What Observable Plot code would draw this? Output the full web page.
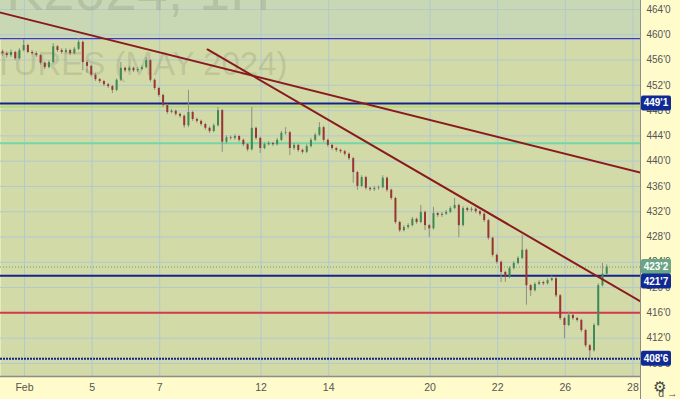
<!DOCTYPE html>
<html><head><meta charset="utf-8">
<script src="https://cdn.jsdelivr.net/npm/d3@7"></script>
<script src="https://cdn.jsdelivr.net/npm/@observablehq/plot@0.6"></script>
<style>
html,body{margin:0;padding:0;background:#fffbcb;overflow:hidden;}
#chart svg{display:block;}
</style></head><body><div id="chart"></div>
<script>
// ---- data (hourly bars, prices in cents) ----
const firstOpen = 457.3;
const firstBarDay = -0.65;
const barsPerDay = 8;
const closes = [457.0,456.7,457.2,456.2,457.5,458.3,457.2,457.0,456.7,455.5,
454.8,455.6,458.1,457.5,457.2,457.5,457.0,457.7,458.8,455.6,
455.0,453.6,452.9,452.6,452.1,451.8,451.2,452.8,454.7,454.3,
454.7,454.3,454.5,454.8,455.9,452.8,451.5,450.4,448.8,447.7,
447.9,447.4,447.1,445.6,447.7,446.6,446.3,445.8,445.2,444.7,
445.6,448.0,443.0,443.7,443.6,443.9,443.3,442.6,441.8,445.2,
443.6,442.0,442.6,442.8,442.6,443.3,444.4,444.5,442.0,442.5,
441.7,441.4,442.3,443.3,444.1,445.3,443.3,442.5,442.0,441.7,
441.5,441.1,440.4,438.2,436.0,437.4,435.7,435.5,435.7,435.8,
437.3,435.4,434.1,430.3,429.0,429.5,429.8,430.8,430.3,431.9,
429.8,429.3,431.7,431.4,431.6,431.9,432.5,433.0,429.8,432.5,
432.2,432.4,432.0,431.6,430.6,427.8,425.1,424.0,422.4,421.6,
423.0,423.8,424.6,425.9,420.3,419.5,420.5,420.8,420.6,421.1,
421.4,418.7,415.1,414.0,415.6,415.1,414.8,413.2,410.8,410.0,
414.0,420.3,422.1,423.25];
const highs = [457.6,457.3,457.6,457.4,457.8,459.25,458.5,457.5,457.3,456.9,
455.7,455.9,458.6,458.3,457.8,457.8,457.7,458.0,459.4,459.0,
455.9,455.2,453.9,453.1,452.8,452.3,452.0,453.0,455.6,454.9,
455.0,454.9,454.8,455.1,456.4,456.1,453.0,451.7,450.6,449.0,
448.2,448.1,447.6,447.3,451.2,447.9,446.8,446.5,446.0,445.4,
445.9,448.5,448.2,444.0,444.0,444.2,444.1,443.5,442.8,448.5,
445.4,443.8,442.9,443.1,443.0,443.6,444.7,445.3,444.7,442.8,
442.7,441.9,442.6,443.6,444.4,446.1,445.5,443.5,442.7,442.2,
441.9,441.7,441.3,440.6,438.4,437.7,437.6,435.9,436.0,436.1,
437.7,437.5,435.6,434.3,430.5,429.8,430.1,431.1,431.0,433.0,
432.1,430.0,432.7,431.9,431.9,432.2,432.8,434.1,433.2,432.8,
432.7,432.7,432.6,432.2,431.8,430.8,428.0,425.3,424.2,422.6,
423.3,424.1,424.9,428.3,426.1,420.5,420.8,421.1,421.0,421.4,
421.8,421.6,418.9,415.3,416.1,415.8,415.3,415.0,413.4,411.0,
414.3,420.6,423.8,423.6];
const lows = [456.6,456.3,456.4,455.9,456.0,457.3,457.0,456.7,456.4,455.2,
454.5,454.6,455.4,457.2,456.9,456.9,456.7,456.8,457.5,454.3,
453.9,453.3,452.6,452.3,451.8,451.5,450.7,451.0,452.6,454.0,
454.1,454.0,454.0,454.3,454.6,452.5,451.2,450.1,448.5,447.4,
447.5,447.1,446.8,445.2,445.3,446.3,446.0,445.5,444.9,444.4,
444.5,445.4,441.4,442.7,443.3,443.3,443.0,442.3,441.5,441.6,
443.3,441.2,441.8,442.4,442.3,442.4,443.1,444.1,440.9,441.7,
441.4,441.1,441.2,442.1,443.1,443.9,443.0,442.2,441.7,441.4,
441.2,440.8,440.1,436.5,435.4,435.8,435.4,435.2,435.2,435.4,
435.6,435.1,433.8,430.0,428.7,428.8,429.2,429.6,430.0,430.1,
429.0,427.9,429.1,431.1,431.1,431.4,431.7,432.3,427.9,429.6,
431.9,431.9,431.7,431.3,430.3,427.5,424.8,423.7,420.8,420.8,
421.4,422.8,423.6,424.4,417.2,418.6,419.3,420.3,420.3,420.4,
420.9,418.4,414.8,411.9,413.8,414.8,414.5,412.9,410.5,408.75,
409.8,413.8,420.1,421.9];

// axes
const tickDays = [0, 2, 4, 7, 9, 12, 14, 16, 18];
const tickLabels = ["Feb", "5", "7", "12", "14", "20", "22", "26", "28"];
const priceTicks = [408,412,416,420,424,428,432,436,440,444,448,452,456,460,464];
const xDomain = [-0.7101, 18.2249];
const yDomain = [405.93, 465.42];

// levels
const blueLevel = 459.375;
const navyLevels = [449.125, 421.875];
const limeLevel = 448.6;
const mintLevel = 442.85;
const redLevel = 416.0;
const supportLevel = 408.75;
const lastPrice = 423.25;

// trend lines
const trendA = [{d: -0.7101, p: 463.5}, {d: 18.2249, p: 438.2}];
const trendB = [{d: 5.414, p: 457.67}, {d: 18.2249, p: 417.8}];

// price tags
const tags = [
  {v: 449.125, label: "449'1", kind: "navy"},
  {v: 423.25, label: "423'2", kind: "last"},
  {v: 421.875, label: "421'7", kind: "navy"},
  {v: 408.75, label: "408'6", kind: "navy"}
];

// watermark
const wmTitle = "ZWK2024, 1H";
const wmSub = "WHEAT FUTURES (MAY 2024)";
const wmTitlePos = {d: 7.28, p: 463.85};
const wmSubPos = {d: 7.78, p: 453.6};

// ---- build bars ----
const bars = closes.map((c, i) => ({
  d: firstBarDay + i / barsPerDay,
  open: i === 0 ? firstOpen : closes[i - 1],
  close: c, high: highs[i], low: lows[i]
}));
const upBars = bars.filter(b => b.close >= b.open);
const downBars = bars.filter(b => b.close < b.open);

const fmt = v => { const f = Math.floor(v); return `${f}'${Math.round((v - f) * 8)}`; };

const plot = Plot.plot({
  width: 680, height: 399,
  marginLeft: 0, marginRight: 40, marginTop: 0, marginBottom: 23,
  x: {domain: xDomain, axis: null},
  y: {domain: yDomain, axis: null},
  style: {background: "#fffbcb", fontFamily: "'Liberation Sans', Arial, sans-serif", fontSize: "10px", color: "#555"},
  marks: [
    Plot.frame({fill: "#d2daa8", stroke: null}),
    Plot.rect([0], {x1: xDomain[0], x2: xDomain[1], y1: blueLevel, y2: yDomain[1], fill: "#c9d8b4"}),
    Plot.gridX(tickDays, {stroke: "#b3c8cf", strokeOpacity: 1}),
    Plot.gridY(priceTicks, {stroke: "#b3c8cf", strokeOpacity: 1}),
    Plot.text([wmTitle], {x: wmTitlePos.d, y: wmTitlePos.p, text: d => d, textAnchor: "end", lineAnchor: "bottom", fontSize: 56, fill: "#68735c", fillOpacity: 0.2, clip: true}),
    Plot.text([wmSub], {x: wmSubPos.d, y: wmSubPos.p, text: d => d, textAnchor: "end", lineAnchor: "bottom", fontSize: 33, fill: "#68735c", fillOpacity: 0.2, clip: true}),
    Plot.ruleY([blueLevel], {stroke: "#3b3bd4", strokeWidth: 1.3}),
    Plot.ruleY([limeLevel], {stroke: "#bad878", strokeWidth: 2}),
    Plot.ruleY([navyLevels[0]], {stroke: "#14238c", strokeWidth: 2}),
    Plot.ruleY([mintLevel], {stroke: "#74d6a6", strokeWidth: 2}),
    Plot.ruleY([redLevel], {stroke: "#d43a4c", strokeWidth: 2}),
    Plot.ruleY([lastPrice], {stroke: "#5f9f7c", strokeWidth: 1, strokeDasharray: "1,2"}),
    Plot.ruleY([navyLevels[1]], {stroke: "#14238c", strokeWidth: 2}),
    Plot.ruleY([supportLevel], {stroke: "#14238c", strokeWidth: 2, strokeDasharray: "2,1"}),
    Plot.ruleX(bars, {x: "d", y1: "low", y2: "high", stroke: "#8e8e86", strokeWidth: 1}),
    Plot.ruleX(upBars, {x: "d", y1: "open", y2: "close", stroke: "#3e8a52", strokeWidth: 2}),
    Plot.ruleX(downBars, {x: "d", y1: "open", y2: "close", stroke: "#9a3434", strokeWidth: 2}),
    Plot.line(trendA, {x: "d", y: "p", stroke: "#8a1a1e", strokeWidth: 2, clip: true}),
    Plot.line(trendB, {x: "d", y: "p", stroke: "#8a1a1e", strokeWidth: 2, clip: true}),
    Plot.axisX(tickDays, {tickSize: 0, tickPadding: 7, tickFormat: (d, i) => tickLabels[i], fill: "#555", fontSize: 10.5}),
    Plot.axisY(priceTicks, {anchor: "right", tickSize: 0, tickPadding: 6, tickFormat: fmt, fill: "#555", fontSize: 10})
  ]
});

const svg = d3.select(plot);
const ys = plot.scale("y");
const xr = 640;
// axis borders
svg.append("line").attr("x1", 0).attr("x2", xr).attr("y1", 376.5).attr("y2", 376.5).attr("stroke", "#8c8c8c").attr("stroke-width", 1.5);
svg.append("line").attr("x1", xr + 0.5).attr("x2", xr + 0.5).attr("y1", 0).attr("y2", 399).attr("stroke", "#8c8c8c").attr("stroke-width", 1);

// price tags
const placed = tags.map(t => ({...t, y: ys.apply(t.v)})).sort((a, b) => a.y - b.y);
for (let i = 1; i < placed.length; i++) {
  if (placed[i].y - placed[i - 1].y < 14.5) placed[i].y = placed[i - 1].y + 14.5;
}
const g = svg.append("g");
for (const t of placed) {
  g.append("rect").attr("x", xr + 1).attr("y", t.y - 7.5).attr("width", 30).attr("height", 15).attr("rx", 2)
    .attr("fill", t.kind === "last" ? "#6aa585" : "#102a94");
  g.append("text").attr("x", xr + 16).attr("y", t.y).attr("dy", "0.35em").attr("text-anchor", "middle")
    .attr("fill", "#fff").attr("font-size", 10).attr("font-weight", "bold").text(t.label);
}
// settings icon
svg.append("text").attr("x", 660).attr("y", 387).attr("dy", "0.35em").attr("text-anchor", "middle")
  .attr("font-family", "DejaVu Sans").attr("font-size", 15).attr("fill", "#444").text("\u2699");

document.getElementById("chart").append(plot);
</script></body></html>
